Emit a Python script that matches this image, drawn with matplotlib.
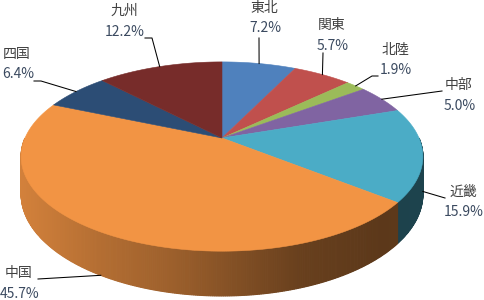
"""
3D pie: regional shares (Excel style)
"""

import numpy as np
import matplotlib
matplotlib.use("Agg")
import matplotlib.pyplot as plt
from matplotlib.patches import Polygon
from matplotlib.colors import to_rgb

plt.rcParams["font.family"] = ["Noto Sans CJK JP", "DejaVu Sans"]

# =====================================================
# Data
# =====================================================

regions = ["東北", "関東", "北陸", "中部", "近畿", "中国", "四国", "九州"]
shares = [7.2, 5.7, 1.9, 5.0, 15.9, 45.7, 6.4, 12.2]
colors = ["#4F81BD", "#C0504D", "#9BBB59", "#8064A2",
          "#4BACC6", "#F29444", "#2C4D75", "#772C2A"]

# label layout (pixels): name centre x, name y, leader start, elbow dx
label_pos = [(264, 8), (332, 25), (395, 50), (459, 85),
             (463, 192), (19, 273), (17, 54), (124, 11)]
leader_start = [(259, 38), (323, 53), (378, 76), (442, 91),
                (445, 198), (38, 279), (34, 81), (145, 38)]
leader_dx = [0, 0, -6, 0, 0, 0, 7, 7]

# =====================================================
# Projection of a tilted disk (simple perspective)
# =====================================================

CX, CY = 222, 138
RX, RY = 197, 91
K = 0.196
DEPTH = 36


def project(t, drop=0.0):
    w = 1 + K * np.cos(t)
    x = CX + RX * np.sin(t) / w
    y = CY - RY * np.cos(t) / w + drop / w
    return x, y


def shade(x):
    xn = (x - CX) / 201
    return np.interp(xn, [-1, -0.6, -0.26, 0.09, 0.39, 0.79, 1],
                     [0.87, 0.74, 0.65, 0.53, 0.43, 0.38, 0.39])


fig = plt.figure(figsize=(4.85, 3.0), dpi=100)
ax = fig.add_axes([0, 0, 1, 1])
ax.set_xlim(0, 485)
ax.set_ylim(300, 0)
ax.axis("off")

fractions = np.array(shares) / np.sum(shares)
bounds = np.concatenate([[0], np.cumsum(fractions)]) * 2 * np.pi

# side walls (front half only)
for i, c in enumerate(colors):
    a0 = max(bounds[i], np.pi / 2)
    a1 = min(bounds[i + 1], 3 * np.pi / 2)
    if a1 <= a0:
        continue
    n = max(2, int(2 * np.degrees(a1 - a0)))
    ts = np.linspace(a0, a1, n + 1)
    base = np.array(to_rgb(c))
    for ta, tb in zip(ts[:-1], ts[1:]):
        xa, ya = project(ta)
        xb, yb = project(tb)
        xa2, ya2 = project(ta, DEPTH)
        xb2, yb2 = project(tb, DEPTH)
        col = base * shade((xa + xb) / 2)
        ax.add_patch(Polygon([(xa, ya), (xb, yb), (xb2, yb2), (xa2, ya2)],
                             closed=True, facecolor=col, edgecolor=col,
                             linewidth=0.8))

# top face
for i, c in enumerate(colors):
    ts = np.linspace(bounds[i], bounds[i + 1], 120)
    xs, ys = project(ts)
    pts = [(CX, CY)] + list(zip(xs, ys))
    ax.add_patch(Polygon(pts, closed=True, facecolor=c, edgecolor=c,
                         linewidth=0.4))

# labels and leader lines
for i, name in enumerate(regions):
    tm = (bounds[i] + bounds[i + 1]) / 2
    if np.cos(tm) < 0:
        axx, ayy = project(tm, DEPTH)
    else:
        axx, ayy = project(tm)
    sx, sy = leader_start[i]
    ax.plot([sx, sx + leader_dx[i], axx], [sy, sy, ayy],
            color="black", linewidth=0.75)
    lx, ly = label_pos[i]
    ax.text(lx, ly, name, ha="center", va="center",
            fontsize=10, color="#404040")
    ax.text(lx + 1, ly + 20.5, f"{shares[i]:.1f}%", ha="center", va="center",
            fontsize=10, color="#3b4a60")

fig.savefig("out.png", dpi=100)
